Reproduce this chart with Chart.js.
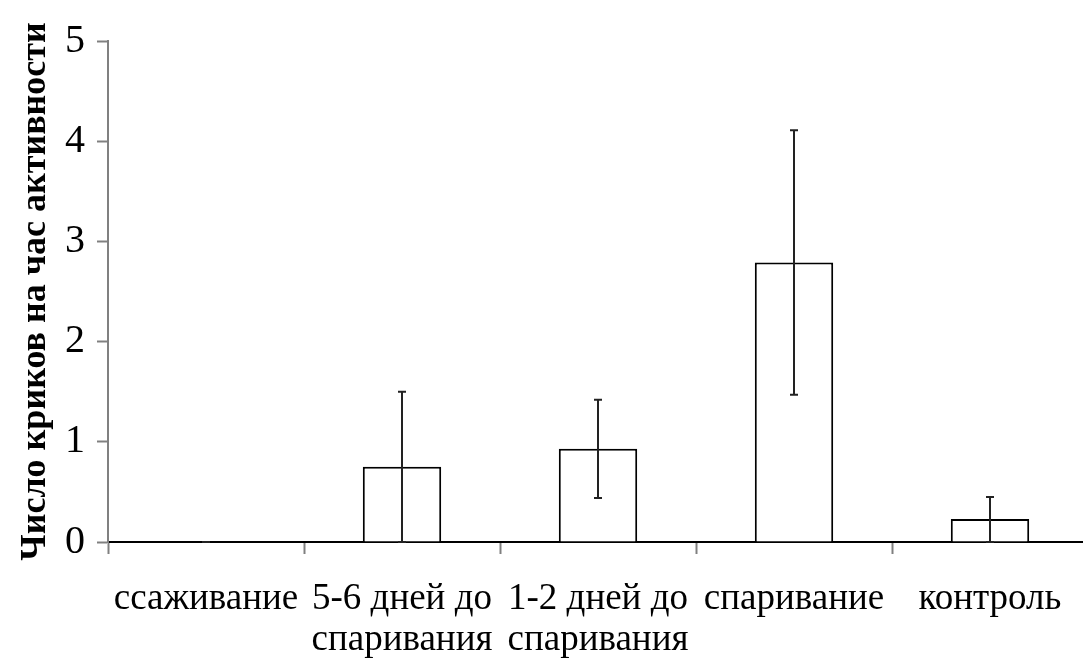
<!DOCTYPE html>
<html>
<head>
<meta charset="utf-8">
<script src="https://cdn.jsdelivr.net/npm/chart.js@4/dist/chart.umd.min.js"></script>
<style>
  html, body { margin: 0; padding: 0; background: #fff; overflow: hidden; }
  #wrap { position: relative; width: 1100px; height: 661px; }
</style>
</head>
<body>
<div id="wrap"><canvas id="chart"></canvas></div>
<script>
// categories and values
const categories = ['ссаживание', ['5-6 дней до', 'спаривания'], ['1-2 дней до', 'спаривания'], 'спаривание', 'контроль'];
const means = [0, 0.75, 0.93, 2.79, 0.23];
const errLow = [0, 0, 0.44, 1.47, 0];
const errHigh = [0, 1.5, 1.42, 4.11, 0.45];
const yTicks = [0, 1, 2, 3, 4, 5];

// draw error bars from the y scale
const errorBars = {
  id: 'errorBars',
  afterDatasetsDraw(chart) {
    const ctx = chart.ctx;
    const meta = chart.getDatasetMeta(0);
    const y = chart.scales.y;
    ctx.save();
    ctx.strokeStyle = '#222';
    ctx.lineWidth = 2;
    meta.data.forEach((bar, i) => {
      const x = bar.x;
      const top = y.getPixelForValue(errHigh[i]);
      const bot = y.getPixelForValue(errLow[i]);
      ctx.beginPath();
      ctx.moveTo(x, top);
      ctx.lineTo(x, bot);
      ctx.moveTo(x - 4, top);
      ctx.lineTo(x + 4, top);
      ctx.moveTo(x - 4, bot);
      ctx.lineTo(x + 4, bot);
      ctx.stroke();
    });
    ctx.restore();
  }
};

new Chart(document.getElementById('chart'), {
  type: 'bar',
  data: {
    labels: categories,
    datasets: [{
      data: means,
      backgroundColor: '#fff',
      borderColor: '#000',
      borderWidth: 2,
      barPercentage: 0.4,
      categoryPercentage: 1
    }]
  },
  options: {
    responsive: true,
    maintainAspectRatio: false,
    animation: false,
    layout: { padding: { top: 41, right: 12, left: 0, bottom: 0 } },
    plugins: { legend: { display: false }, tooltip: { enabled: false } },
    scales: {
      x: {
        grid: { drawOnChartArea: false, offset: true, tickLength: 12, tickColor: '#808080', tickWidth: 2 },
        border: { color: '#000', width: 2 },
        ticks: {
          color: '#000',
          font: { family: 'Liberation Serif', size: 37, lineHeight: 1.1 },
          maxRotation: 0,
          autoSkip: false,
          padding: 25
        },
        afterFit(scale) { scale.height = 119; }
      },
      y: {
        min: 0,
        max: 5,
        afterBuildTicks(scale) { scale.ticks = yTicks.map(v => ({ value: v })); },
        grid: { drawOnChartArea: false, tickLength: 11, tickColor: '#808080', tickWidth: 2 },
        border: { color: '#808080', width: 2 },
        ticks: {
          color: '#000',
          font: { family: 'Liberation Serif', size: 40 },
          padding: 12
        },
        title: {
          display: true,
          text: 'Число криков на час активности',
          color: '#000',
          font: { family: 'Liberation Serif', size: 36, weight: 'bold' },
          padding: { top: 14, bottom: 0 }
        },
        afterFit(scale) { scale.width = 108; }
      }
    }
  },
  plugins: [errorBars]
});
</script>
</body>
</html>
